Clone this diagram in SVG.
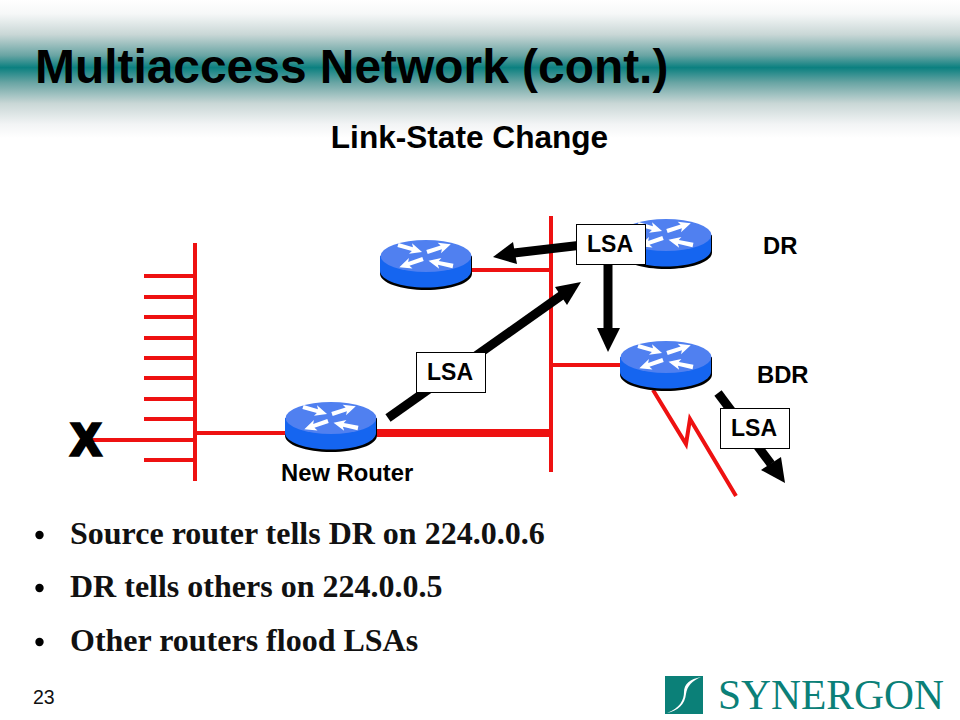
<svg xmlns="http://www.w3.org/2000/svg" xmlns:xlink="http://www.w3.org/1999/xlink" width="960" height="720" viewBox="0 0 960 720">
<style>
.sans{font-family:"Liberation Sans",Arial,sans-serif;font-weight:bold;fill:#000}
.serif{font-family:"Liberation Serif","Times New Roman",serif;font-weight:bold;fill:#111;font-size:32px}
.red{stroke:#ee1111;fill:none}
.lsa{fill:#fff;stroke:#000;stroke-width:1}
.lbl{font-size:23.800px}
.ar{stroke:#000;stroke-width:9;fill:none}
.dot{fill:#000}
</style>
<defs>
<linearGradient id="band" x1="0" y1="0" x2="0" y2="1">
<stop offset="0" stop-color="#fff"/>
<stop offset="0.1" stop-color="#f6f8f8"/>
<stop offset="0.25" stop-color="#c9d7d6"/>
<stop offset="0.4" stop-color="#6aa5a4"/>
<stop offset="0.49" stop-color="#0b8080"/>
<stop offset="0.6" stop-color="#6aa5a4"/>
<stop offset="0.75" stop-color="#c9d7d6"/>
<stop offset="0.9" stop-color="#f2f4f5"/>
<stop offset="1" stop-color="#fff"/>
</linearGradient>
<path id="ra" fill="#fff" d="M0-2.200L15-2L13-5.500L25 0L13 5.500L15 2L0 2.200Z"/>
<g id="router">
<path d="M-46 0V17.500C-46 27 -25 34 0 34S46 27 46 17.500V0Z" fill="#000"/>
<path d="M-46 0V15C-46 24 -25 31.500 0 31.500S45 24 45 15V0Z" fill="#1565f0"/>
<ellipse cx="0" cy="0" rx="45.500" ry="16" fill="#5080f0"/>
<use xlink:href="#ra" transform="translate(-28 -11) rotate(16)"/>
<use xlink:href="#ra" transform="translate(1 -4) rotate(-18)"/>
<use xlink:href="#ra" transform="translate(-3 3) rotate(161)"/>
<use xlink:href="#ra" transform="translate(27 10) rotate(192)"/>
</g>
</defs>
<rect width="960" height="720" fill="#fff"/>
<rect width="960" height="138" fill="url(#band)"/>
<text class="sans" x="35" y="83" font-size="47.900">Multiaccess Network (cont.)</text>
<text class="sans" x="469.500" y="148" font-size="31.600" text-anchor="middle">Link-State Change</text>
<g id="connectors">
<g class="red" stroke-width="4">
<path d="M195 243V481M551 216V472"/>
<path d="M144 276H195M144 297H195M144 317H195M144 338H195M144 358H195M144 378H195M144 399H195M144 419H195M92 440H195M144 460H195"/>
<path d="M195 433H285M472 270H551M551 365H620"/>
<path d="M653 390L686 444L690 419L736 496"/>
</g>
<path d="M377 433H551" class="red" stroke-width="8"/>
<g id="lsa-arrows">
<path class="ar" d="M617 241L514 253"/><path d="M493 257L513 242L517 264Z"/>
<path class="ar" d="M388 418L562 295"/><path d="M581 282L555 287L567 305Z"/>
<path class="ar" d="M608 264V330"/><path d="M608 352L597 328H620Z"/>
<path class="ar" d="M718 393L771 464"/><path d="M785 483L761 470L781 457Z"/>
</g>
</g>
<g id="router-a"><use xlink:href="#router" x="426" y="256"/></g>
<g id="router-dr"><use xlink:href="#router" x="666" y="235"/><text class="sans lbl" x="763" y="254">DR</text></g>
<g id="router-bdr"><use xlink:href="#router" x="666" y="357"/><text class="sans lbl" x="757" y="383">BDR</text></g>
<g id="router-new"><use xlink:href="#router" x="331" y="418"/><text class="sans lbl" x="281" y="481">New Router</text></g>
<g id="lsa1"><rect class="lsa" x="416.500" y="352.500" width="69" height="40"/><text class="sans" font-size="23" x="450" y="380" text-anchor="middle">LSA</text></g>
<g id="lsa2"><rect class="lsa" x="576.500" y="224.500" width="69" height="40"/><text class="sans" font-size="23" x="610" y="252" text-anchor="middle">LSA</text></g>
<g id="lsa3"><rect class="lsa" x="720.500" y="408.500" width="69" height="40"/><text class="sans" font-size="23" x="754" y="436" text-anchor="middle">LSA</text></g>
<g id="fail"><text class="sans" x="86" y="455" font-size="44" text-anchor="middle" stroke="#000" stroke-width="3.500">X</text></g>
<g id="bullets">
<circle class="dot" cx="39.500" cy="535" r="4.200"/><text class="serif" x="70" y="544">Source router tells DR on 224.0.0.6</text>
<circle class="dot" cx="39.500" cy="588" r="4.200"/><text class="serif" x="70" y="597">DR tells others on 224.0.0.5</text>
<circle class="dot" cx="39.500" cy="642" r="4.200"/><text class="serif" x="70" y="651">Other routers flood LSAs</text>
</g>
<text x="33" y="704" font-family="'Liberation Sans',Arial,sans-serif" font-size="19.500" fill="#111">23</text>
<g id="logo">
<rect x="665" y="676" width="38" height="38" fill="#0b8078"/>
<path d="M667 713C680 708 684 700 684 692C684 684 690 679 701 677C692 681 687 686 686 694C685 704 678 711 667 713Z" fill="#fff"/>
<text x="718" y="709" font-family="'Liberation Serif','Times New Roman',serif" font-size="41.500" fill="#0b8078">SYNERGON</text>
</g>
</svg>
